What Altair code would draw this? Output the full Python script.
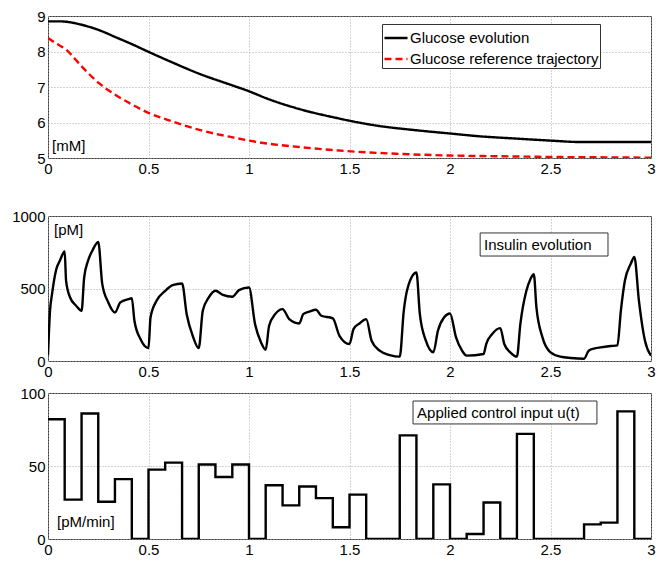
import altair as alt
import pandas as pd

FONT = "Liberation Sans"

# ---------------- data ----------------
glu_t = [0, 0.05, 0.088, 0.155, 0.255, 0.338, 0.42, 0.5, 0.587, 0.754, 0.92, 1.0, 1.087,
         1.25, 1.45, 1.5, 1.65, 1.817, 2.0, 2.15, 2.32, 2.5, 2.65, 2.81, 3.0]
glu_v = [8.85, 8.85, 8.84, 8.77, 8.6, 8.4, 8.2, 7.99, 7.77, 7.37, 7.04, 6.88, 6.68,
         6.38, 6.11, 6.05, 5.9, 5.79, 5.69, 5.61, 5.55, 5.49, 5.45, 5.45, 5.45]

ref_t = [0, 0.04, 0.088, 0.171, 0.255, 0.338, 0.42, 0.5, 0.587, 0.754, 0.92, 1.0, 1.087, 1.25,
         1.45, 1.6, 1.73, 2.0, 2.23, 2.5, 2.73, 3.0]
ref_v = [8.38, 8.23, 8.06, 7.56, 7.1, 6.77, 6.5, 6.27, 6.09, 5.79, 5.58, 5.49, 5.41, 5.31,
         5.21, 5.155, 5.12, 5.07, 5.05, 5.03, 5.02, 5.01]

ins_t = [0, 0.01, 0.02, 0.04, 0.06, 0.083, 0.09, 0.11, 0.14, 0.167, 0.18, 0.2, 0.22, 0.25,
         0.27, 0.3, 0.333, 0.36, 0.4, 0.417, 0.43, 0.46, 0.5, 0.51, 0.54, 0.583, 0.62, 0.667,
         0.69, 0.72, 0.75, 0.77, 0.8, 0.833, 0.87, 0.917, 0.95, 1.0, 1.03, 1.06, 1.083, 1.1,
         1.13, 1.167, 1.2, 1.25, 1.27, 1.3, 1.333, 1.36, 1.417, 1.45, 1.5, 1.52, 1.55, 1.583,
         1.61, 1.65, 1.7, 1.75, 1.77, 1.79, 1.833, 1.85, 1.88, 1.917, 1.94, 1.97, 2.0, 2.03,
         2.06, 2.083, 2.167, 2.18, 2.21, 2.25, 2.27, 2.3, 2.333, 2.35, 2.38, 2.4, 2.417, 2.43,
         2.46, 2.5, 2.55, 2.6, 2.667, 2.69, 2.72, 2.75, 2.8, 2.833, 2.85, 2.87, 2.9, 2.917,
         2.94, 2.97, 3.0]
ins_v = [40, 346, 461, 626, 695, 755, 553, 438, 381, 346, 576, 695, 759, 821,
         530, 404, 335, 404, 427, 433, 278, 151, 89, 300, 415, 484, 523, 535,
         323, 174, 89, 346, 438, 484, 456, 443, 489, 507, 255, 128, 78, 243,
         323, 358, 289, 259, 323, 340, 353, 312, 294, 174, 117, 220, 259, 289,
         140, 71, 41, 30, 346, 507, 610, 323, 140, 60, 209, 300, 328, 163,
         71, 37, 48, 117, 186, 227, 117, 60, 30, 255, 484, 564, 598, 369,
         163, 60, 30, 21, 16, 71, 87, 94, 103, 108, 346, 553, 672, 718,
         415, 140, 37]

u_t = [0, 0.083, 0.167, 0.25, 0.333, 0.417, 0.5, 0.583, 0.667, 0.75, 0.833, 0.917,
       1.0, 1.083, 1.167, 1.25, 1.333, 1.417, 1.5, 1.583, 1.667, 1.75, 1.833, 1.917,
       2.0, 2.083, 2.167, 2.25, 2.333, 2.417, 2.5, 2.583, 2.667, 2.75, 2.833, 2.917, 3.0]
u_v = [82, 27, 86, 25.5, 41, 0, 47.5, 52.3, 0, 51, 42.5, 51,
       0, 36.8, 23, 36, 28, 8, 30.4, 0, 0, 71, 0, 37.4,
       0, 3.4, 25, 0, 72, 0, 0, 0, 10, 11.2, 87.4, 0, 0]

series_names = ["Glucose evolution", "Glucose reference trajectory"]
x_ticks = [0, 0.5, 1, 1.5, 2, 2.5, 3]

# ---------------- helpers ----------------
W = 603
xscale = alt.Scale(domain=[0, 3], nice=False, zero=False)
xaxis = alt.Axis(values=x_ticks, format="~g", title=None, labelFlush=False, labelOverlap=False)


def yaxis(vals):
    return alt.Axis(values=vals, format="d", title=None, labelFlush=False, labelOverlap=False)


def text_layer(x, y, label, yax, ysc):
    df = pd.DataFrame({"x": [x], "y": [y], "label": [label]})
    return alt.Chart(df).mark_text(align="left", baseline="middle", font=FONT,
                                   fontSize=15, color="black").encode(
        x=alt.X("x:Q", scale=xscale, axis=xaxis), y=alt.Y("y:Q", scale=ysc, axis=yax), text="label:N")


def box_layer(x1, x2, y1, y2, yax, ysc):
    df = pd.DataFrame({"x1": [x1], "x2": [x2], "y1": [y1], "y2": [y2]})
    return alt.Chart(df).mark_rect(fill="white", stroke="#333333", strokeWidth=1).encode(
        x=alt.X("x1:Q", scale=xscale, axis=xaxis), x2="x2:Q",
        y=alt.Y("y1:Q", scale=ysc, axis=yax), y2="y2:Q")


# ---------------- top: glucose ----------------
gdf = pd.concat([
    pd.DataFrame({"t": glu_t, "v": glu_v, "s": series_names[0]}),
    pd.DataFrame({"t": ref_t, "v": ref_v, "s": series_names[1]}),
])
leg = alt.Legend(orient="none", legendX=334, legendY=8, title=None, fillColor="white",
                 strokeColor="#333333", padding=1, labelFont=FONT, labelFontSize=15,
                 labelColor="black", labelLimit=400, symbolType="stroke", symbolSize=530,
                 symbolStrokeWidth=2.5, labelOffset=1, rowPadding=0)
y_top = alt.Scale(domain=[5, 9], nice=False, zero=False)
ax_top = yaxis([5, 6, 7, 8, 9])
gluc = alt.Chart(gdf).mark_line(strokeWidth=2.4, interpolate="monotone", clip=True).encode(
    x=alt.X("t:Q", scale=xscale, axis=xaxis),
    y=alt.Y("v:Q", scale=y_top, axis=ax_top),
    color=alt.Color("s:N", scale=alt.Scale(domain=series_names, range=["black", "red"]), legend=leg),
    strokeDash=alt.StrokeDash("s:N", scale=alt.Scale(domain=series_names, range=[[1, 0], [7, 4]]), legend=leg),
    order=alt.Order("t:Q"),
)
top = alt.layer(gluc, text_layer(0.02, 5.34, "[mM]", ax_top, y_top)).properties(width=W, height=142)

# ---------------- middle: insulin ----------------
y_mid = alt.Scale(domain=[0, 1000], nice=False)
ax_mid = yaxis([0, 500, 1000])
idf = pd.DataFrame({"t": ins_t, "v": ins_v})
ins = alt.Chart(idf).mark_line(color="black", strokeWidth=2.4, interpolate="monotone", clip=True).encode(
    x=alt.X("t:Q", scale=xscale, axis=xaxis),
    y=alt.Y("v:Q", scale=y_mid, axis=ax_mid),
    order=alt.Order("t:Q"),
)
mid = alt.layer(
    ins,
    box_layer(2.15, 2.786, 883, 724, ax_mid, y_mid),
    text_layer(2.169, 800, "Insulin evolution", ax_mid, y_mid),
    text_layer(0.03, 903, "[pM]", ax_mid, y_mid),
).properties(width=W, height=145)

# ---------------- bottom: control input ----------------
y_bot = alt.Scale(domain=[0, 100], nice=False)
ax_bot = yaxis([0, 50, 100])
udf = pd.DataFrame({"t": u_t, "v": u_v})
uline = alt.Chart(udf).mark_line(color="black", strokeWidth=2.4, interpolate="step-after", clip=True).encode(
    x=alt.X("t:Q", scale=xscale, axis=xaxis),
    y=alt.Y("v:Q", scale=y_bot, axis=ax_bot),
    order=alt.Order("t:Q"),
)
bot = alt.layer(
    uline,
    box_layer(1.816, 2.731, 94.5, 78.8, ax_bot, y_bot),
    text_layer(1.836, 86.3, "Applied control input u(t)", ax_bot, y_bot),
    text_layer(0.045, 11.6, "[pM/min]", ax_bot, y_bot),
).properties(width=W, height=146)

inner = alt.vconcat(mid, bot, spacing=32, bounds="flush")
chart = alt.vconcat(top, inner, spacing=58, bounds="flush").properties(
    padding={"left": 3, "top": 0, "right": 0, "bottom": 0}
).configure_view(
    stroke="#3a3a3a", strokeWidth=1
).configure_axis(
    domain=False, ticks=False, grid=True, gridColor="#a8a8a8", gridDash=[1, 2], gridWidth=1,
    labelFont=FONT, labelFontSize=15, labelColor="black", labelPadding=3
)

chart.save("out.html", embed_options={"renderer": "svg", "actions": False})
